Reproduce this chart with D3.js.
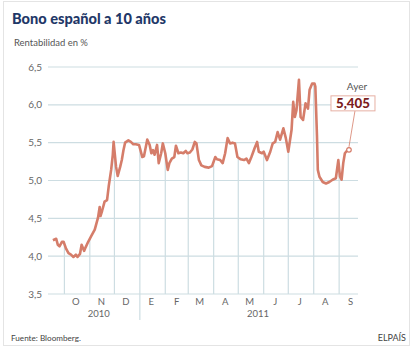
<!DOCTYPE html>
<html>
<head>
<meta charset="utf-8">
<script src="https://cdn.jsdelivr.net/npm/d3@7"></script>
<style>
  body { margin: 0; background: #fff; }
  text { font-family: Lato, "Open Sans", sans-serif; }
</style>
</head>
<body>
<div id="graph"></div>
<script>
// Rentabilidad del bono a 10 años (%), lecturas aproximadas del gráfico
const dates = [
  "2010-09-17","2010-09-21","2010-09-23","2010-09-25","2010-09-28","2010-09-30",
  "2010-10-03","2010-10-06","2010-10-09","2010-10-12","2010-10-15","2010-10-17",
  "2010-10-20","2010-10-22","2010-10-25","2010-10-27","2010-10-30","2010-11-03",
  "2010-11-07","2010-11-09","2010-11-11","2010-11-13","2010-11-14","2010-11-16",
  "2010-11-19","2010-11-22","2010-11-24","2010-11-27","2010-11-29","2010-11-30",
  "2010-12-03","2010-12-05","2010-12-08","2010-12-10","2010-12-12","2010-12-14",
  "2010-12-18","2010-12-21","2010-12-24","2010-12-27","2010-12-31","2011-01-04",
  "2011-01-06","2011-01-10","2011-01-13","2011-01-15","2011-01-17","2011-01-19",
  "2011-01-22","2011-01-24","2011-01-27","2011-01-29","2011-02-01","2011-02-04",
  "2011-02-06","2011-02-09","2011-02-12","2011-02-14","2011-02-17","2011-02-20",
  "2011-02-23","2011-02-26","2011-02-28","2011-03-03","2011-03-06","2011-03-09",
  "2011-03-11","2011-03-14","2011-03-17","2011-03-21","2011-03-26","2011-03-30",
  "2011-04-03","2011-04-05","2011-04-09","2011-04-12","2011-04-15","2011-04-18",
  "2011-04-21","2011-04-24","2011-04-27","2011-04-30","2011-05-04","2011-05-08",
  "2011-05-11","2011-05-14","2011-05-17","2011-05-21","2011-05-24","2011-05-26",
  "2011-05-30","2011-06-01","2011-06-05","2011-06-09","2011-06-12","2011-06-15",
  "2011-06-18","2011-06-21","2011-06-25","2011-06-28","2011-07-01","2011-07-05",
  "2011-07-07","2011-07-09","2011-07-11","2011-07-14","2011-07-16","2011-07-19",
  "2011-07-22","2011-07-25","2011-07-27","2011-07-30","2011-08-02","2011-08-03",
  "2011-08-05","2011-08-06","2011-08-08","2011-08-12","2011-08-16","2011-08-20",
  "2011-08-24","2011-08-28","2011-08-31","2011-09-02","2011-09-04","2011-09-06",
  "2011-09-08","2011-09-11","2011-09-13"
];
const yields = [
  4.21,4.23,4.15,4.13,4.19,4.19,
  4.10,4.04,4.02,3.99,4.02,3.99,
  4.03,4.15,4.07,4.12,4.19,4.27,
  4.35,4.43,4.51,4.65,4.53,4.60,
  4.72,4.74,4.92,5.14,5.34,5.51,
  5.18,5.06,5.18,5.27,5.40,5.50,
  5.53,5.51,5.48,5.48,5.47,5.31,
  5.32,5.54,5.47,5.36,5.40,5.34,
  5.47,5.23,5.36,5.49,5.36,5.14,
  5.23,5.29,5.31,5.46,5.36,5.37,
  5.36,5.39,5.36,5.37,5.41,5.51,
  5.49,5.27,5.20,5.18,5.17,5.19,
  5.31,5.28,5.27,5.23,5.36,5.56,
  5.49,5.50,5.49,5.31,5.28,5.27,
  5.29,5.23,5.31,5.43,5.51,5.38,
  5.36,5.38,5.27,5.38,5.49,5.51,
  5.64,5.54,5.69,5.56,5.38,5.67,
  6.04,5.84,5.93,6.33,5.84,5.80,
  6.02,5.95,6.20,6.28,6.28,6.24,
  5.58,5.14,5.05,4.98,4.96,4.98,
  5.01,5.03,5.27,5.05,5.01,5.23,
  5.36,5.40,5.405
];
const yTicks = [3.5, 4.0, 4.5, 5.0, 5.5, 6.0, 6.5];
const monthStarts = ["2010-10-01","2010-11-01","2010-12-01","2011-01-01","2011-02-01","2011-03-01",
  "2011-04-01","2011-05-01","2011-06-01","2011-07-01","2011-08-01","2011-09-01"];
const monthLabels = ["O","N","D","E","F","M","A","M","J","J","A","S"];
const yearLabels = ["2010","2011"];
const yearLabelDates = ["2010-11-12","2011-05-25"];
const lastLabel = "5,405";

const width = 414, height = 349;
const margin = {top: 67, right: 56, bottom: 55, left: 48};
const parse = d3.timeParse("%Y-%m-%d");
const fmt = d3.format(".1f");
const data = dates.map((d, i) => ({date: parse(d), value: yields[i]}));

const svg = d3.select("#graph").append("svg")
  .attr("width", width)
  .attr("height", height);

// ajusta el tamaño de letra para que el texto ocupe el ancho dado
function fit(sel, w) {
  const fs = parseFloat(sel.style("font-size"));
  const len = sel.node().getComputedTextLength();
  sel.style("font-size", (fs * w / len) + "px");
  return sel;
}

// marco
svg.append("rect")
  .attr("x", 3.5).attr("y", 1.5)
  .attr("width", 406).attr("height", 344)
  .attr("fill", "#fff")
  .attr("stroke", "#e4e4e4");

fit(svg.append("text")
  .attr("x", 12).attr("y", 24)
  .style("font-size", "17px").style("font-weight", 900)
  .style("fill", "#1f3868")
  .text("Bono español a 10 años"), 154);

fit(svg.append("text")
  .attr("x", 14).attr("y", 46)
  .style("font-size", "10.5px")
  .style("fill", "#555")
  .text("Rentabilidad en %"), 74);

const x = d3.scaleTime()
  .domain([parse("2010-09-11"), parse("2011-09-24")])
  .range([margin.left, width - margin.right]);
const y = d3.scaleLinear()
  .domain([3.5, 6.5])
  .range([height - margin.bottom, margin.top]);

const grid = "#cddde2";

// lineas horizontales
svg.append("g")
  .selectAll("line")
  .data(yTicks)
  .join("line")
  .attr("x1", x.range()[0]).attr("x2", x.range()[1])
  .attr("y1", d => y(d)).attr("y2", d => y(d))
  .attr("stroke", grid).attr("stroke-width", 1.2);

svg.append("g")
  .selectAll("text")
  .data(yTicks)
  .join("text")
  .attr("x", 42).attr("y", d => y(d) + 3.5)
  .style("text-anchor", "end")
  .style("font-size", "10px")
  .style("fill", "#666")
  .text(d => fmt(d).replace(".", ","));

// lineas verticales hasta la curva
const bisect = d3.bisector(d => d.date).left;
function valueAt(date) {
  const i = bisect(data, date);
  const a = data[i - 1], b = data[i];
  const t = (date - a.date) / (b.date - a.date);
  return a.value + t * (b.value - a.value);
}
svg.append("g")
  .selectAll("line")
  .data(monthStarts)
  .join("line")
  .attr("x1", d => x(parse(d))).attr("x2", d => x(parse(d)))
  .attr("y1", d => y(valueAt(parse(d))))
  .attr("y2", d => d === "2011-01-01" ? y(3.5) + 26 : y(3.5))
  .attr("stroke", grid).attr("stroke-width", 1.2);

// etiquetas de meses, a mitad de mes
svg.append("g")
  .selectAll("text")
  .data(monthStarts)
  .join("text")
  .attr("x", d => x(d3.timeDay.offset(parse(d), 14)))
  .attr("y", y(3.5) + 11)
  .style("text-anchor", "middle")
  .style("font-size", "9.5px")
  .style("fill", "#666")
  .text((d, i) => monthLabels[i]);

svg.append("g")
  .selectAll("text")
  .data(yearLabels)
  .join("text")
  .attr("x", (d, i) => x(parse(yearLabelDates[i])))
  .attr("y", y(3.5) + 23)
  .style("text-anchor", "middle")
  .style("font-size", "9.5px")
  .style("fill", "#666")
  .text(d => d);

const line = d3.line()
  .x(d => x(d.date))
  .y(d => y(d.value));

svg.append("path")
  .datum(data)
  .attr("fill", "none")
  .attr("stroke", "#d57d6a")
  .attr("stroke-width", 2.6)
  .attr("stroke-linejoin", "round")
  .attr("d", line);

// anotacion "Ayer"
const last = data[data.length - 1];
const lx = x(last.date), ly = y(last.value);
svg.append("line")
  .attr("x1", lx).attr("y1", ly - 3)
  .attr("x2", lx + 6).attr("y2", ly - 39)
  .attr("stroke", "#d57d6a").attr("stroke-width", 0.8);
svg.append("rect")
  .attr("x", lx - 18).attr("y", ly - 54)
  .attr("width", 44).attr("height", 15)
  .attr("fill", "#fff")
  .attr("stroke", "#e6b0a4");
fit(svg.append("text")
  .attr("x", lx + 4).attr("y", ly - 42)
  .style("text-anchor", "middle")
  .style("font-size", "13px").style("font-weight", 900)
  .style("fill", "#7c1d1d")
  .text(lastLabel), 34);
svg.append("text")
  .attr("x", lx + 8).attr("y", ly - 60)
  .style("text-anchor", "middle")
  .style("font-size", "10px")
  .style("fill", "#555")
  .text("Ayer");
svg.append("circle")
  .attr("cx", lx).attr("cy", ly).attr("r", 2.3)
  .attr("fill", "#fff")
  .attr("stroke", "#d57d6a").attr("stroke-width", 1.2);

fit(svg.append("text")
  .attr("x", 11).attr("y", 341)
  .style("font-size", "9.5px")
  .style("fill", "#444")
  .text("Fuente: Bloomberg."), 70);

svg.append("text")
  .attr("x", 406).attr("y", 341)
  .style("text-anchor", "end")
  .style("font-size", "9px")
  .style("fill", "#444")
  .text("ELPAÍS");
</script>
</body>
</html>
